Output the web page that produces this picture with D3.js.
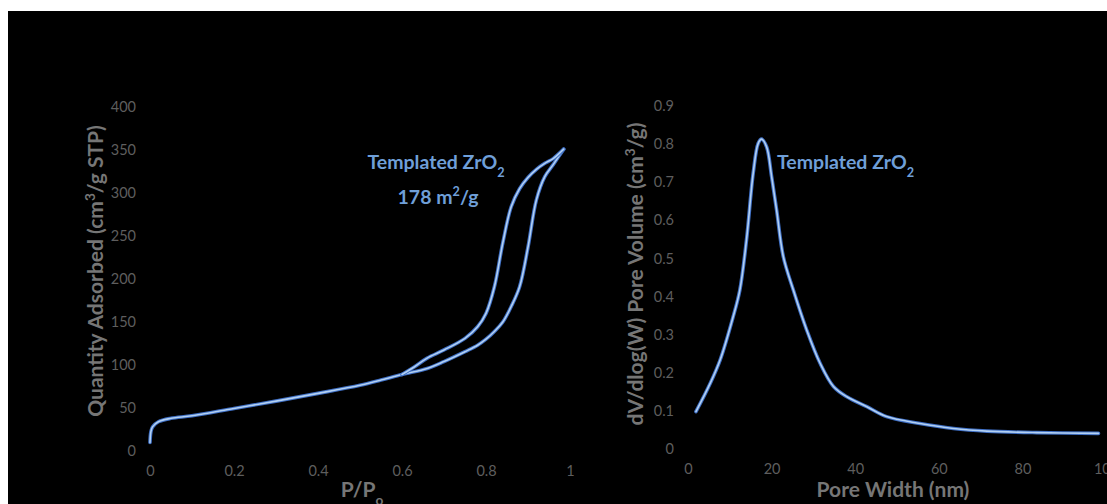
<!DOCTYPE html>
<html lang="en">
<head>
<meta charset="UTF-8">
<title>Templated ZrO2 isotherm and pore size</title>
<script src="https://cdn.jsdelivr.net/npm/d3@7"></script>
<style>
    html, body { margin: 0; padding: 0; background: #ffffff; }
    svg { display: block; font-family: Lato, "Open Sans", sans-serif; }
    .tick-label { fill: #5e5e5e; font-size: 14.5px; }
    .axis-title { fill: #767676; font-size: 21px; font-weight: bold; }
    .note { fill: #6f9fd8; font-size: 19.5px; font-weight: bold; }
</style>
</head>
<body>
<div id="chart"></div>
<script>
    // isotherm, adsorption branch (P/P0, cm3/g STP)
    const adsX = [0, 0.002, 0.006, 0.02, 0.05, 0.1, 0.2, 0.3, 0.4, 0.5, 0.55, 0.6, 0.66, 0.7, 0.75, 0.78, 0.8, 0.82, 0.84, 0.86, 0.88, 0.9, 0.92, 0.94, 0.96, 0.985]
    const adsY = [10, 22, 28, 34, 38, 41, 49.5, 58, 67, 76.5, 82.5, 89, 96, 104, 115.5, 123, 130, 139, 150, 168, 191, 237, 292, 319, 333, 351]
    // isotherm, desorption branch
    const desX = [0.985, 0.96, 0.94, 0.92, 0.9, 0.88, 0.86, 0.84, 0.82, 0.8, 0.78, 0.75, 0.7, 0.66, 0.63, 0.6]
    const desY = [351, 340, 334.5, 327.5, 318, 305, 284, 242, 191, 160, 144.5, 131, 117.5, 108, 98, 89]

    // pore size distribution (nm, cm3/g)
    const poreX = [1.9, 5.3, 7.7, 10.8, 12.4, 14.0, 15.6, 16.8, 17.6, 18.8, 20.0, 21.2, 22.8, 25.2, 28.4, 31.6, 34.8, 38, 42.8, 47.5, 55.5, 63.5, 71.5, 83.4, 98.2]
    const poreY = [0.098, 0.172, 0.234, 0.347, 0.417, 0.549, 0.724, 0.802, 0.813, 0.793, 0.715, 0.627, 0.505, 0.417, 0.312, 0.225, 0.164, 0.137, 0.111, 0.085, 0.067, 0.054, 0.047, 0.043, 0.041]

    const isoXTicks = [0, 0.2, 0.4, 0.6, 0.8, 1]
    const isoYTicks = [0, 50, 100, 150, 200, 250, 300, 350, 400]
    const poreXTicks = [0, 20, 40, 60, 80, 100]
    const poreYTicks = [0, 0.1, 0.2, 0.3, 0.4, 0.5, 0.6, 0.7, 0.8, 0.9]

    const width = 1107
    const height = 504

    const svg = d3.select("#chart").append("svg")
        .attr("width", width)
        .attr("height", height)

    svg.append("rect")
        .attr("x", 8)
        .attr("y", 11)
        .attr("width", width - 8)
        .attr("height", height - 11)
        .attr("fill", "#000000")

    function drawPanel(opt) {
        const x = d3.scaleLinear().domain(opt.xDomain).range(opt.xRange)
        const y = d3.scaleLinear().domain(opt.yDomain).range(opt.yRange)
        const g = svg.append("g")

        const xAxis = g.append("g")
            .attr("transform", `translate(0, ${opt.yRange[0]})`)
            .call(d3.axisBottom(x).tickValues(opt.xTicks).tickSize(0).tickPadding(15).tickFormat(opt.xFormat))
        const yAxis = g.append("g")
            .attr("transform", `translate(${opt.xRange[0]}, 0)`)
            .call(d3.axisLeft(y).tickValues(opt.yTicks).tickSize(0).tickPadding(14).tickFormat(opt.yFormat))

        for (const ax of [xAxis, yAxis]) {
            ax.select(".domain").remove()
            ax.selectAll("text")
                .attr("class", "tick-label")
                .attr("fill", null)
                .style("font-family", "Lato, sans-serif")
        }

        const line = d3.line()
            .x((d) => x(d[0]))
            .y((d) => y(d[1]))
            .curve(d3.curveCatmullRom.alpha(0.5))

        for (const s of opt.series) {
            const pts = s.xs.map((v, i) => [v, s.ys[i]])
            g.append("path")
                .datum(pts)
                .attr("d", line)
                .attr("fill", "none")
                .attr("stroke", "#3f6fc4")
                .attr("stroke-width", 3.6)
                .attr("stroke-linejoin", "round")
                .attr("stroke-linecap", "round")
            g.append("path")
                .datum(pts)
                .attr("d", line)
                .attr("fill", "none")
                .attr("stroke", "#b2d0f2")
                .attr("stroke-width", 1.6)
                .attr("stroke-linejoin", "round")
                .attr("stroke-linecap", "round")
        }

        const xt = g.append("text")
            .attr("class", "axis-title")
            .attr("x", opt.xTitleX)
            .attr("y", 497)
            .attr("text-anchor", "middle")
        opt.xTitle(xt)

        const yt = g.append("text")
            .attr("class", "axis-title")
            .attr("transform", `translate(${opt.yTitleX}, ${opt.yTitleY}) rotate(-90)`)
            .attr("text-anchor", "middle")
        opt.yTitle(yt)
    }

    function sup(t, s) {
        t.append("tspan")
            .attr("baseline-shift", "super")
            .style("font-size", "0.65em")
            .text(s)
    }

    function sub(t, s) {
        t.append("tspan")
            .attr("baseline-shift", "sub")
            .style("font-size", "0.65em")
            .text(s)
    }

    drawPanel({
        xDomain: [0, 1], xRange: [150, 570],
        yDomain: [0, 400], yRange: [451, 107],
        xTicks: isoXTicks, yTicks: isoYTicks,
        xFormat: (d) => d === 0 || d === 1 ? d : d3.format(".1f")(d),
        yFormat: (d) => d,
        series: [{ xs: adsX, ys: adsY }, { xs: desX, ys: desY }],
        xTitleX: 362,
        xTitle: (t) => {
            t.append("tspan").text("P/P")
            sub(t, "o")
        },
        yTitleX: 103, yTitleY: 271,
        yTitle: (t) => {
            t.append("tspan").text("Quantity Adsorbed (cm")
            sup(t, "3")
            t.append("tspan").text("/g STP)")
        }
    })

    drawPanel({
        xDomain: [0, 100], xRange: [688, 1106],
        yDomain: [0, 0.9], yRange: [449, 106],
        xTicks: poreXTicks, yTicks: poreYTicks,
        xFormat: (d) => d,
        yFormat: (d) => d === 0 ? "0" : d3.format(".1f")(d),
        series: [{ xs: poreX, ys: poreY }],
        xTitleX: 893,
        xTitle: (t) => t.text("Pore Width (nm)"),
        yTitleX: 643, yTitleY: 274,
        yTitle: (t) => {
            t.append("tspan").text("dV/dlog(W) Pore Volume (cm")
            sup(t, "3")
            t.append("tspan").text("/g)")
        }
    })

    // annotations
    function zro2(t) {
        t.append("tspan").text("Templated ZrO")
        sub(t, "2")
    }

    zro2(svg.append("text").attr("class", "note").attr("x", 436).attr("y", 169).attr("text-anchor", "middle"))

    const area = svg.append("text").attr("class", "note").attr("x", 438).attr("y", 204).attr("text-anchor", "middle")
    area.append("tspan").text("178 m")
    sup(area, "2")
    area.append("tspan").text("/g")

    zro2(svg.append("text").attr("class", "note").attr("x", 777).attr("y", 169))
</script>
</body>
</html>
